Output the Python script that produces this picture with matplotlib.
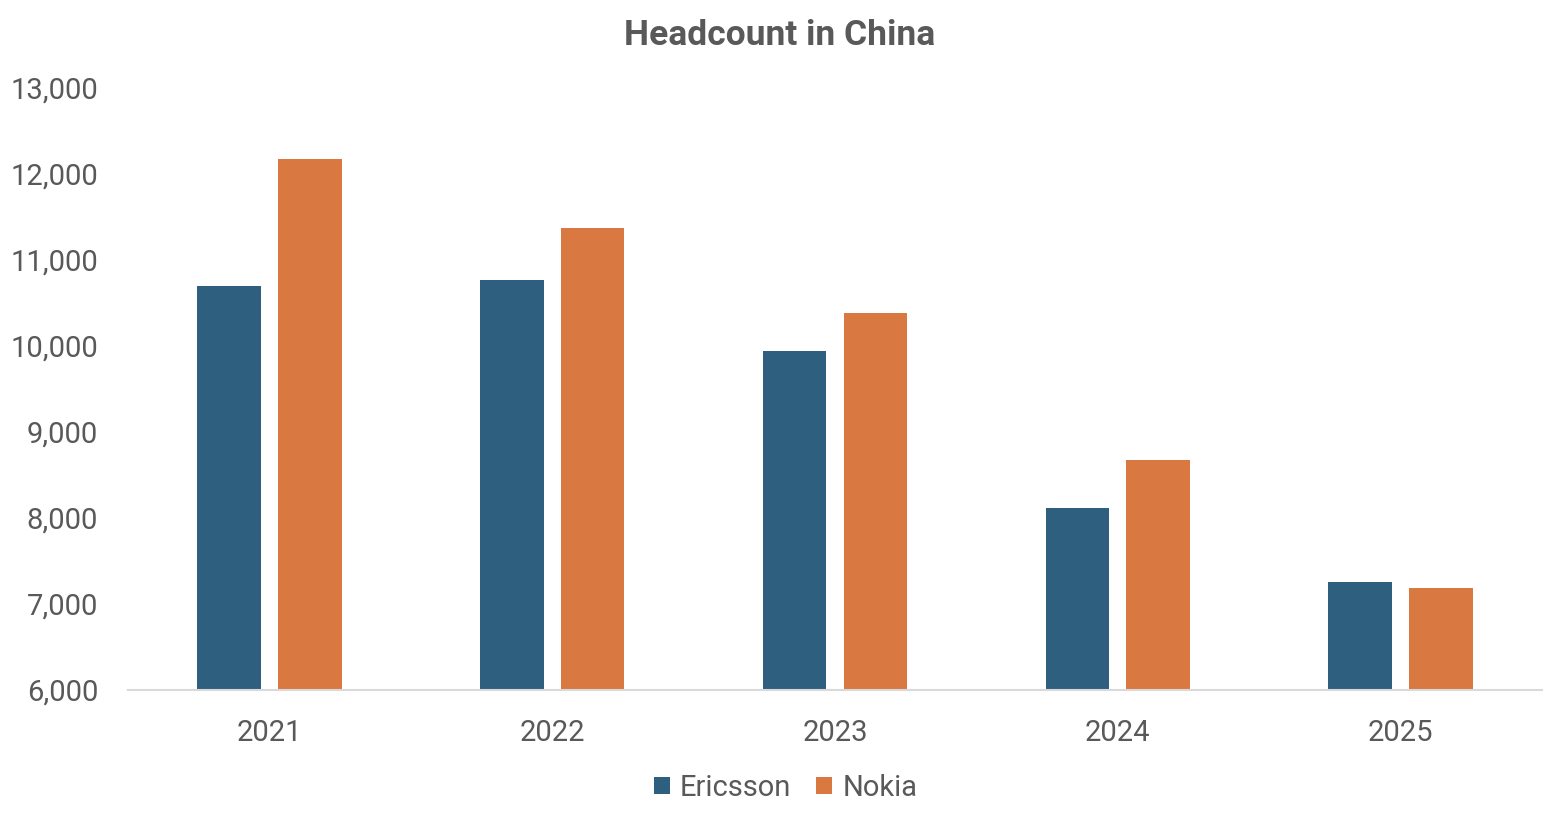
import numpy as np
import matplotlib
matplotlib.use('Agg')
from matplotlib import pyplot as plt
from matplotlib.ticker import FuncFormatter

plt.rcParams['font.family'] = ['Roboto', 'DejaVu Sans']

years = ['2021', '2022', '2023', '2024', '2025']
ericsson = [10700, 10770, 9940, 8120, 7260]
nokia = [12180, 11370, 10380, 8680, 7190]

grey = '#595959'
blue = '#2E5F7F'
orange = '#D97941'

fig = plt.figure(figsize=(15.6, 8.14), dpi=100)
ax = fig.add_axes([0.082, 0.1523, 0.9065, 0.7396])

x = np.arange(len(years))
w = 0.225
ax.bar(x - 0.143, ericsson, w, color=blue, label='Ericsson', zorder=2)
ax.bar(x + 0.143, nokia, w, color=orange, label='Nokia', zorder=2)

ax.set_xlim(-0.5, 4.5)
ax.set_ylim(6000, 13000)
ax.set_yticks(range(6000, 13001, 1000))
ax.yaxis.set_major_formatter(FuncFormatter(lambda v, p: f'{int(v):,}'))
ax.set_xticks(x)
ax.set_xticklabels(years)

for s in ['top', 'right', 'left']:
    ax.spines[s].set_visible(False)
ax.spines['bottom'].set_color('#D9D9D9')
ax.spines['bottom'].set_linewidth(1.5)
ax.tick_params(axis='both', length=0, labelsize=21, colors=grey)
ax.tick_params(axis='x', pad=21)
ax.tick_params(axis='y', pad=21.5)

fig.text(0.5, 0.957, 'Headcount in China', ha='center', va='center',
         fontsize=25.5, fontweight='bold', color=grey)

leg = fig.legend(loc='center', bbox_to_anchor=(0.5035, 0.032), ncol=2, frameon=False,
                 fontsize=21, handlelength=0.55, handleheight=0.55, handletextpad=0.35,
                 columnspacing=0.85)
for t in leg.get_texts():
    t.set_color(grey)

fig.savefig('out.png', dpi=100)
